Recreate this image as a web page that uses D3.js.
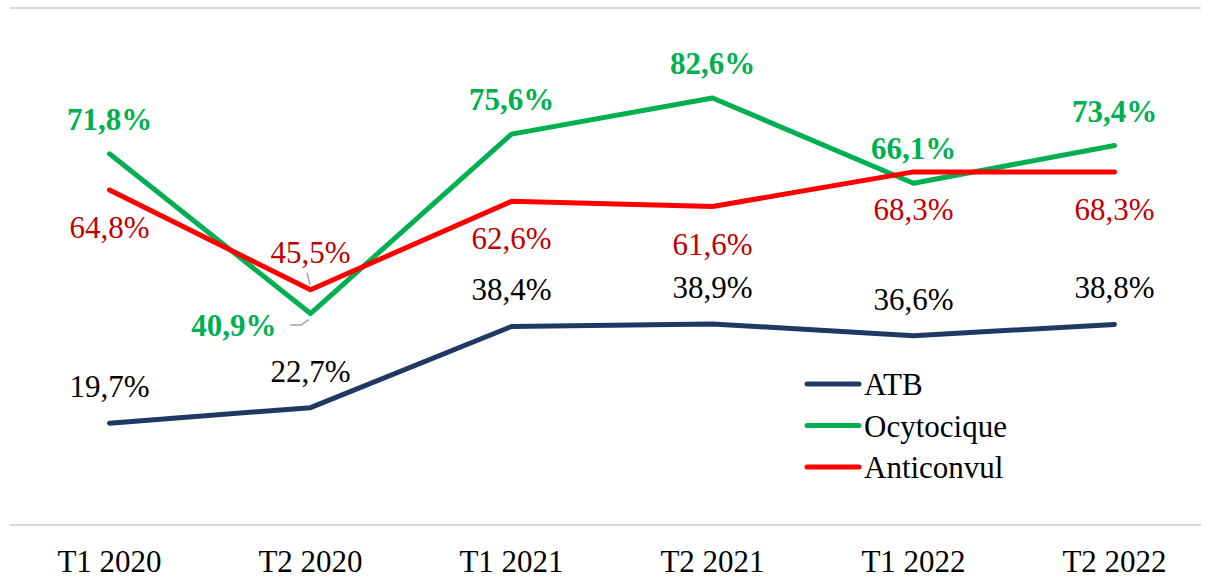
<!DOCTYPE html>
<html>
<head>
<meta charset="utf-8">
<script src="https://cdn.jsdelivr.net/npm/d3@7"></script>
<style>
  body { margin: 0; background: #fff; }
</style>
</head>
<body>
<div id="chart"></div>
<script>
var periods = ["T1 2020", "T2 2020", "T1 2021", "T2 2021", "T1 2022", "T2 2022"];
var atb = [19.7, 22.7, 38.4, 38.9, 36.6, 38.8];
var ocytocique = [71.8, 40.9, 75.6, 82.6, 66.1, 73.4];
var anticonvul = [64.8, 45.5, 62.6, 61.6, 68.3, 68.3];
var seriesNames = ["ATB", "Ocytocique", "Anticonvul"];

var width = 1213, height = 581;
var FONT = "'Liberation Serif', 'Times New Roman', Tinos, 'DejaVu Serif', serif";
var fmt = function(v) { return v.toFixed(1).replace(".", ",") + "%"; };

var x = d3.scaleBand().domain(periods).range([9, 1215]);
var cx = function(d) { return x(d) + x.bandwidth() / 2; };
var y = d3.scaleLinear().domain([0, 100]).range([525, 8]);

var svg = d3.select("#chart").append("svg")
    .attr("width", width).attr("height", height)
    .style("font-family", FONT);

// top and bottom lines
svg.selectAll("line.grid").data([0, 100]).enter().append("line")
    .attr("class", "grid")
    .attr("x1", 10).attr("x2", 1201)
    .attr("y1", function(d) { return y(d); })
    .attr("y2", function(d) { return y(d); })
    .attr("stroke", "#d9d9d9").attr("stroke-width", 2);

// x labels
svg.selectAll("text.xlab").data(periods).enter().append("text")
    .attr("class", "xlab")
    .attr("x", cx).attr("y", 572)
    .attr("text-anchor", "middle")
    .style("font-family", FONT)
    .style("font-size", "31px")
    .attr("fill", "#000")
    .text(function(d) { return d; });

var series = [
    { name: "ATB", values: atb, color: "#203864" },
    { name: "Ocytocique", values: ocytocique, color: "#00B050" },
    { name: "Anticonvul", values: anticonvul, color: "#FF0000" }
];

var line = d3.line()
    .x(function(d, i) { return cx(periods[i]); })
    .y(function(d) { return y(d); });

series.forEach(function(s) {
    svg.append("path")
        .datum(s.values)
        .attr("d", line)
        .attr("fill", "none")
        .attr("stroke", s.color)
        .attr("stroke-width", 5)
        .attr("stroke-linejoin", "round")
        .attr("stroke-linecap", "round");
});

// leader lines
var lead = svg.append("g").attr("stroke", "#a6a6a6").attr("stroke-width", 1.5).attr("fill", "none");
lead.append("path").attr("d", "M290,325 L301,325 L309," + (y(ocytocique[1]) + 6));
lead.append("path").attr("d", "M307,273 L310," + (y(anticonvul[1]) - 5));

function addLabels(cls, data, opts) {
    svg.selectAll("text." + cls).data(data).enter().append("text")
        .attr("class", cls)
        .attr("x", function(d, i) { return cx(periods[i]) + (opts.dx ? opts.dx(i) : 0); })
        .attr("y", function(d, i) { return y(d) + opts.dy(i); })
        .attr("text-anchor", function(d, i) { return opts.anchor ? opts.anchor(i) : "middle"; })
        .style("font-family", FONT)
        .style("font-size", "31px")
        .style("font-weight", opts.bold ? "bold" : "normal")
        .attr("fill", opts.color)
        .text(fmt);
}

addLabels("atb", atb, { color: "#000", dy: function() { return -26; } });
addLabels("ocy", ocytocique, {
    color: "#00B050", bold: true,
    dx: function(i) { return i === 1 ? -34 : 0; },
    dy: function(i) { return i === 1 ? 22 : -24; },
    anchor: function(i) { return i === 1 ? "end" : "middle"; }
});
addLabels("anti", anticonvul, {
    color: "#C00000",
    dy: function(i) { return i === 1 ? -27 : 48; }
});

// legend
var legend = svg.append("g").attr("transform", "translate(805,384)");
var li = legend.selectAll("g").data(series).enter().append("g")
    .attr("transform", function(d, i) { return "translate(0," + (i * 41.5) + ")"; });
li.append("line")
    .attr("x1", 2).attr("x2", 54).attr("y1", 0).attr("y2", 0)
    .attr("stroke", function(d) { return d.color; })
    .attr("stroke-width", 5)
    .attr("stroke-linecap", "round");
li.append("text")
    .attr("x", 59).attr("y", 11)
    .style("font-family", FONT)
    .style("font-size", "31px")
    .attr("fill", "#000")
    .text(function(d) { return d.name; });
</script>
</body>
</html>
